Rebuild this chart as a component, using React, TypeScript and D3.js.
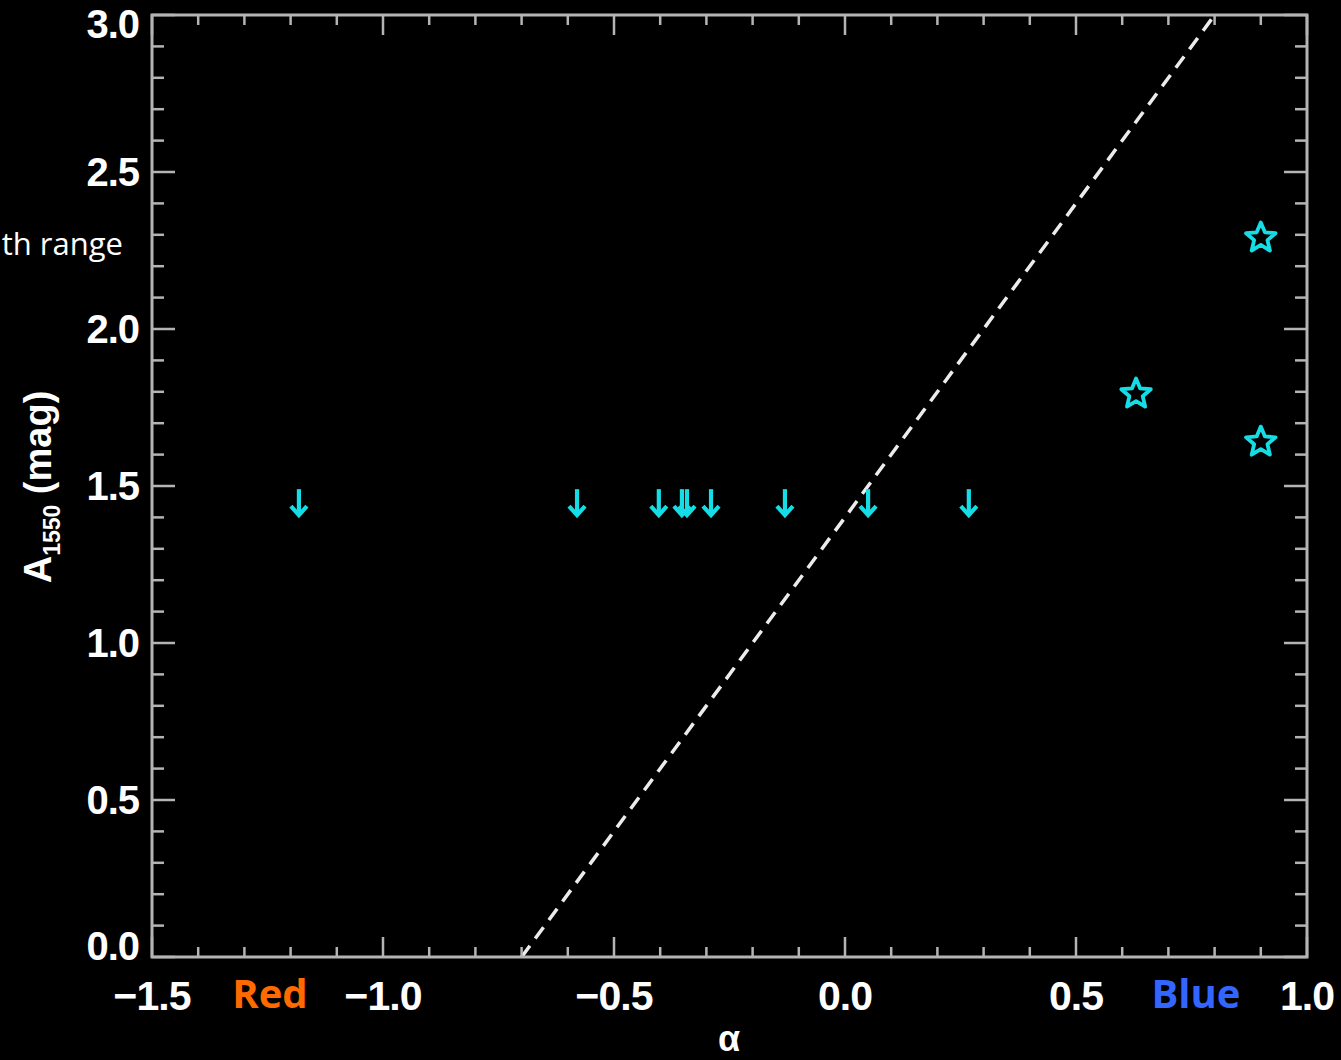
import React from "react";
import * as d3 from "d3";

const W = 1341;
const H = 1060;

// Data
const limitAlpha = [-1.182, -0.58, -0.403, -0.353, -0.342, -0.29, -0.13, 0.05, 0.268];
const limitA = [1.49, 1.49, 1.49, 1.49, 1.49, 1.49, 1.49, 1.49, 1.49];
const starAlpha = [0.9, 0.63, 0.9];
const starA = [2.293, 1.796, 1.643];
const lineAlpha = [-0.7, 0.8];
const lineA = [0.0, 3.0];
const xMajor = [-1.5, -1.0, -0.5, 0.0, 0.5, 1.0];
const xMajorLabels = ["\u22121.5", "\u22121.0", "\u22120.5", "0.0", "0.5", "1.0"];
const yMajor = [0, 0.5, 1.0, 1.5, 2.0, 2.5, 3.0];
const yMajorLabels = ["0.0", "0.5", "1.0", "1.5", "2.0", "2.5", "3.0"];

const M = { left: 152, right: 1307, top: 15, bottom: 957 };

export default function App() {
  const x = d3.scaleLinear().domain([-1.5, 1.0]).range([M.left, M.right]);
  const y = d3.scaleLinear().domain([0, 3.0]).range([M.bottom, M.top]);

  const xMinor = d3.range(-15, 11).map((i) => i / 10);
  const yMinor = d3.range(0, 31).map((i) => i / 10);
  const isMajor = (v: number) => Math.abs(v * 2 - Math.round(v * 2)) < 1e-6;

  const axisColor = "#b4b4b4";
  const cyan = "#14dde6";
  const tickFont = "'Liberation Sans', Arial, Helvetica, sans-serif";

  const starPath = (cx: number, cy: number, R: number, r: number) => {
    const pts: [number, number][] = [];
    for (let i = 0; i < 10; i++) {
      const ang = -Math.PI / 2 + (i * Math.PI) / 5;
      const rad = i % 2 === 0 ? R : r;
      pts.push([cx + rad * Math.cos(ang), cy + rad * Math.sin(ang)]);
    }
    return d3.line()(pts) + "Z";
  };

  const lineGen = d3
    .line<number>()
    .x((_, i) => x(lineAlpha[i]))
    .y((_, i) => y(lineA[i]));

  return (
    <svg
      width={W}
      height={H}
      style={{ position: "absolute", left: 0, top: 0, background: "#000" }}
    >
      <rect x={0} y={0} width={W} height={H} fill="#000" />
      {/* dashed line */}
      <path
        d={lineGen(lineAlpha) || ""}
        stroke="#ececec"
        strokeWidth={3.5}
        strokeDasharray="14 9"
        fill="none"
      />
      {/* frame */}
      <rect
        x={M.left}
        y={M.top}
        width={M.right - M.left}
        height={M.bottom - M.top}
        fill="none"
        stroke={axisColor}
        strokeWidth={3}
      />
      {/* x ticks bottom and top */}
      {xMinor.map((v, i) => {
        const L = isMajor(v) ? 20 : 10;
        return (
          <g key={"xt" + i} stroke={axisColor} strokeWidth={2.5}>
            <line x1={x(v)} x2={x(v)} y1={M.bottom} y2={M.bottom - L} />
            <line x1={x(v)} x2={x(v)} y1={M.top} y2={M.top + L} />
          </g>
        );
      })}
      {/* y ticks left and right */}
      {yMinor.map((v, i) => {
        const L = isMajor(v) ? 23 : 12;
        return (
          <g key={"yt" + i} stroke={axisColor} strokeWidth={2.5}>
            <line x1={M.left} x2={M.left + L} y1={y(v)} y2={y(v)} />
            <line x1={M.right} x2={M.right - L} y1={y(v)} y2={y(v)} />
          </g>
        );
      })}
      {/* x tick labels */}
      {xMajor.map((v, i) => (
        <text
          key={"xl" + i}
          x={x(v)}
          y={1010}
          textAnchor="middle"
          fill="#fff"
          fontFamily={tickFont}
          fontWeight="bold"
          fontSize={41}
          letterSpacing={-1}
        >
          {xMajorLabels[i]}
        </text>
      ))}
      {/* y tick labels */}
      {yMajor.map((v, i) => (
        <text
          key={"yl" + i}
          x={139}
          y={Math.min(960, Math.max(38, y(v) + 14))}
          textAnchor="end"
          fill="#fff"
          fontFamily={tickFont}
          fontWeight="bold"
          fontSize={40}
          letterSpacing={-1}
        >
          {yMajorLabels[i]}
        </text>
      ))}
      {/* axis titles */}
      <text
        x={729}
        y={1051}
        textAnchor="middle"
        fill="#fff"
        fontFamily={tickFont}
        fontWeight="bold"
        fontSize={36}
      >
        α
      </text>
      <text
        transform="translate(51,487) rotate(-90)"
        textAnchor="middle"
        fill="#fff"
        fontFamily={tickFont}
        fontWeight="bold"
        fontSize={38}
      >
        A
        <tspan fontSize={23} dy={9}>
          1550
        </tspan>
        <tspan dy={-9}> (mag)</tspan>
      </text>
      {/* annotations */}
      <text
        x={123}
        y={255}
        textAnchor="end"
        fill="#fff"
        fontFamily="'Open Sans', 'Noto Sans', sans-serif"
        fontSize={31}
      >
        th range
      </text>
      <text
        x={270}
        y={1008}
        textAnchor="middle"
        fill="#ff6a00"
        fontFamily="'Open Sans', 'Noto Sans', sans-serif"
        fontWeight="bold"
        fontSize={40}
      >
        Red
      </text>
      <text
        x={1196}
        y={1008}
        textAnchor="middle"
        fill="#3366ff"
        fontFamily="'Open Sans', 'Noto Sans', sans-serif"
        fontWeight="bold"
        fontSize={40}
      >
        Blue
      </text>
      {/* upper-limit arrows */}
      {limitAlpha.map((a, i) => {
        const cx = x(a);
        const cy = y(limitA[i]);
        return (
          <g
            key={"ar" + i}
            stroke={cyan}
            strokeWidth={4.2}
            fill="none"
            strokeLinecap="butt"
            strokeLinejoin="miter"
          >
            <line x1={cx} x2={cx} y1={cy} y2={cy + 26} />
            <path d={`M${cx - 8},${cy + 17} L${cx},${cy + 26} L${cx + 8},${cy + 17}`} />
          </g>
        );
      })}
      {/* stars */}
      {starAlpha.map((a, i) => (
        <path
          key={"st" + i}
          d={starPath(x(a), y(starA[i]) + 1, 15.5, 7)}
          fill="none"
          stroke={cyan}
          strokeWidth={3.8}
          strokeLinejoin="round"
        />
      ))}
    </svg>
  );
}
